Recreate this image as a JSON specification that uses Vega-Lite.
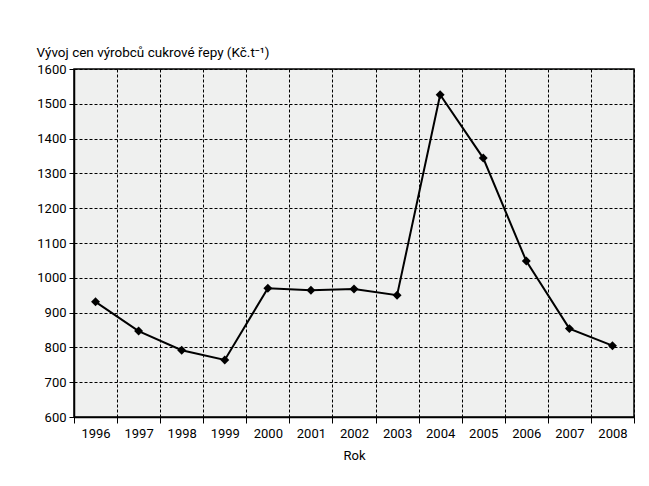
{
  "$schema": "https://vega.github.io/schema/vega-lite/v6.json",
  "width": 560,
  "height": 348,
  "autosize": "none",
  "padding": {"left": 74, "top": 69, "right": 15, "bottom": 69},
  "background": "white",
  "config": {
    "font": "Roboto",
    "view": {"fill": "#eff0ef", "stroke": "black", "strokeWidth": 1.5},
    "axis": {
      "labelFont": "Roboto",
      "titleFont": "Roboto",
      "labelFontSize": 13,
      "titleFontSize": 13,
      "titleFontWeight": "normal",
      "labelColor": "black",
      "titleColor": "black",
      "domainColor": "black",
      "domainWidth": 1.5,
      "tickColor": "black",
      "gridColor": "black",
      "gridDash": [3, 2],
      "gridWidth": 1,
      "gridOpacity": 1
    }
  },
  "data": {
    "values": [
      {"rok": "1996", "cena": 931},
      {"rok": "1997", "cena": 847},
      {"rok": "1998", "cena": 792},
      {"rok": "1999", "cena": 764},
      {"rok": "2000", "cena": 970},
      {"rok": "2001", "cena": 964},
      {"rok": "2002", "cena": 968},
      {"rok": "2003", "cena": 950},
      {"rok": "2004", "cena": 1526},
      {"rok": "2005", "cena": 1344},
      {"rok": "2006", "cena": 1048},
      {"rok": "2007", "cena": 854},
      {"rok": "2008", "cena": 805}
    ]
  },
  "encoding": {
    "x": {
      "field": "rok",
      "type": "ordinal",
      "scale": {"paddingInner": 0, "paddingOuter": 0},
      "axis": {
        "title": "Rok",
        "labelAngle": 0,
        "tickBand": "extent",
        "tickSize": 6,
        "labelPadding": 4,
        "titlePadding": 9,
        "grid": true
      }
    },
    "y": {
      "field": "cena",
      "type": "quantitative",
      "scale": {"domain": [600, 1600], "nice": false, "zero": false},
      "axis": {
        "title": "Vývoj cen výrobců cukrové řepy (Kč.t⁻¹)",
        "titleAngle": 0,
        "titleAlign": "left",
        "titleBaseline": "alphabetic",
        "titleX": -38,
        "titleY": -13,
        "titleFontSize": 13.5,
        "format": "d",
        "values": [600, 700, 800, 900, 1000, 1100, 1200, 1300, 1400, 1500, 1600],
        "tickSize": 5,
        "labelPadding": 3,
        "grid": true
      }
    }
  },
  "layer": [
    {"mark": {"type": "line", "color": "black", "strokeWidth": 2}},
    {"mark": {"type": "point", "shape": "diamond", "filled": true, "color": "black", "size": 80, "opacity": 1}}
  ]
}
